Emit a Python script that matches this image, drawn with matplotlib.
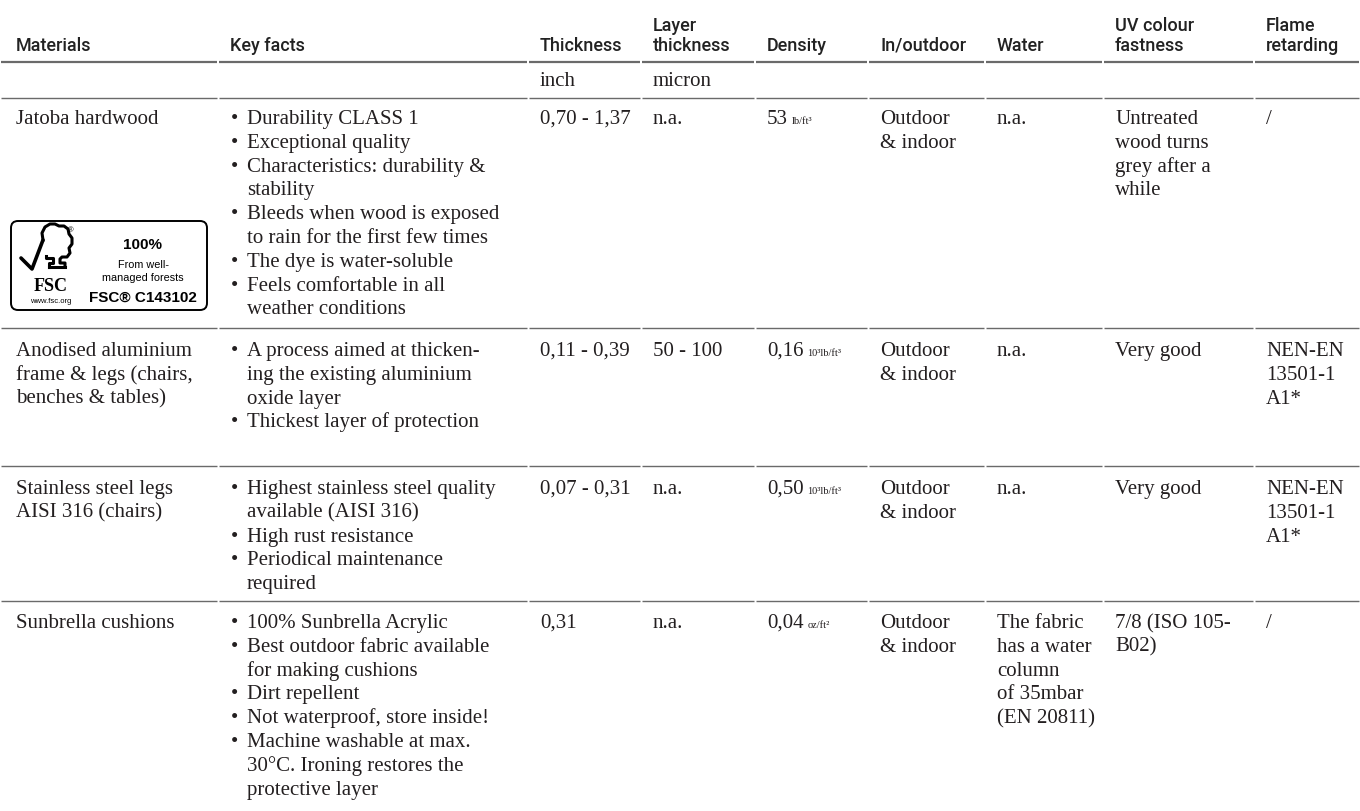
import matplotlib
matplotlib.use("Agg")
import matplotlib.pyplot as plt
from matplotlib.patches import FancyBboxPatch

# ---------------- data ----------------
headers = [["Materials"], ["Key facts"], ["Thickness"], ["Layer", "thickness"],
           ["Density"], ["In/outdoor"], ["Water"], ["UV colour", "fastness"],
           ["Flame", "retarding"]]
units = ["", "", "inch", "micron", "", "", "", "", ""]

materials = [["Jatoba hardwood"],
             ["Anodised aluminium", "frame & legs (chairs,", "benches & tables)"],
             ["Stainless steel legs", "AISI 316 (chairs)"],
             ["Sunbrella cushions"]]
key_facts = [
    [["Durability CLASS 1"], ["Exceptional quality"],
     ["Characteristics: durability &", "stability"],
     ["Bleeds when wood is exposed", "to rain for the first few times"],
     ["The dye is water-soluble"],
     ["Feels comfortable in all", "weather conditions"]],
    [["A process aimed at thicken-", "ing the existing aluminium", "oxide layer"],
     ["Thickest layer of protection"]],
    [["Highest stainless steel quality", "available (AISI 316)"],
     ["High rust resistance"],
     ["Periodical maintenance", "required"]],
    [["100% Sunbrella Acrylic"],
     ["Best outdoor fabric available", "for making cushions"],
     ["Dirt repellent"],
     ["Not waterproof, store inside!"],
     ["Machine washable at max.", "30°C. Ironing restores the", "protective layer"]],
]
thickness = ["0,70 - 1,37", "0,11 - 0,39", "0,07 - 0,31", "0,31"]
layer_thickness = ["n.a.", "50 - 100", "n.a.", "n.a."]
density_value = ["53", "0,16", "0,50", "0,04"]
density_unit = ["lb/ft³", "10³lb/ft³", "10³lb/ft³", "oz/ft²"]
in_outdoor = [["Outdoor", "& indoor"]] * 4
water = [["n.a."], ["n.a."], ["n.a."],
         ["The fabric", "has a water", "column", "of 35mbar", "(EN 20811)"]]
uv_fastness = [["Untreated", "wood turns", "grey after a", "while"],
               ["Very good"], ["Very good"], ["7/8 (ISO 105-", "B02)"]]
flame = [["/"], ["NEN-EN", "13501-1", "A1*"], ["NEN-EN", "13501-1", "A1*"], ["/"]]

# ---------------- layout ----------------
W, H = 1360, 811
col_x = [16, 230, 540, 653, 767, 880, 997, 1115, 1266]
bullet_dx, text_dx = 1, 17
header_y = [25, 45]
line_header = 62
units_y = 80
line_units = 98
row_top = [118, 350, 488, 622]
row_div = [328, 466, 601]
LS = 23.8

SERIF = ["Liberation Serif", "DejaVu Serif"]
SANS = ["Roboto", "DejaVu Sans"]
BODY_PT = 15.0
HEAD_PT = 13.0
TXT = "#231f20"
LINE = "#6a6a6a"

fig = plt.figure(figsize=(W / 100, H / 100), dpi=100)
ax = fig.add_axes([0, 0, 1, 1])
ax.set_xlim(0, W)
ax.set_ylim(H, 0)
ax.axis("off")


def body(x, y, s, **kw):
    return ax.text(x, y + 6, s, va="baseline", ha="left", family=SERIF,
                   fontsize=BODY_PT, color=TXT, **kw)


def head(x, y, s):
    ax.text(x, y + 6, s, va="baseline", ha="left", family=SANS,
            fontsize=HEAD_PT, color="#222222", fontweight="medium")


def hline(y, lw):
    bounds = [0] + [c - 12 for c in col_x[1:]] + [W]
    for a, b in zip(bounds[:-1], bounds[1:]):
        ax.plot([a + 0.6, b - 0.6], [y, y], color=LINE, lw=lw,
                solid_capstyle="butt")


# header
for cx, lines in zip(col_x, headers):
    start = 2 - len(lines)
    for i, ln in enumerate(lines):
        head(cx, header_y[start + i], ln)
hline(line_header, 1.6)
for cx, u in zip(col_x, units):
    if u:
        body(cx, units_y, u)
hline(line_units, 1.0)
for y in row_div:
    hline(y, 1.0)

renderer = fig.canvas.get_renderer()

for r in range(4):
    y0 = row_top[r]
    for i, ln in enumerate(materials[r]):
        body(col_x[0], y0 + i * LS, ln)
    k = 0
    for bullet in key_facts[r]:
        body(col_x[1] + bullet_dx, y0 + k * LS, "•")
        for ln in bullet:
            body(col_x[1] + text_dx, y0 + k * LS, ln)
            k += 1
    body(col_x[2], y0, thickness[r])
    body(col_x[3], y0, layer_thickness[r])
    t = body(col_x[4], y0, density_value[r])
    bb = t.get_window_extent(renderer)
    x_end = ax.transData.inverted().transform((bb.x1, bb.y0))[0]
    ax.text(x_end + 4, y0 + 6, density_unit[r], va="baseline", ha="left",
            family=SERIF, fontsize=7.5, color=TXT)
    for col, vals in ((5, in_outdoor), (6, water), (7, uv_fastness), (8, flame)):
        for i, ln in enumerate(vals[r]):
            body(col_x[col], y0 + i * LS, ln)

# ---------------- FSC label ----------------
box = FancyBboxPatch((11, 221), 196, 89,
                     boxstyle="round,pad=0,rounding_size=7",
                     fc="white", ec="black", lw=1.4)
ax.add_patch(box)
check_x = [21, 32, 43]
check_y = [258, 269, 240]
ax.plot(check_x, check_y, color="black", lw=2.6, solid_capstyle="round",
        solid_joinstyle="round")
crown_x = [43, 42, 45, 50, 55, 59, 64, 68, 69, 72, 72, 69, 70, 67, 62, 60, 60, 65, 65]
crown_y = [240, 233, 227, 224, 224, 226, 226, 229, 234, 238, 244, 248, 253, 257, 257, 259, 263, 263, 267]
ax.plot(crown_x, crown_y, color="black", lw=2.2, solid_joinstyle="round")
trunk_x = [46, 46, 53, 53, 49, 49]
trunk_y = [256, 258, 258, 263, 263, 267]
ax.plot(trunk_x, trunk_y, color="black", lw=2.2, solid_joinstyle="round")
ax.plot([49, 65], [267, 267], color="black", lw=2.2)
ax.text(71, 231, "®", fontsize=5.5, family=["Liberation Sans"], ha="center",
        va="center", color="black")
ax.text(51, 291, "FSC", fontsize=13, family=SERIF, fontweight="bold",
        ha="center", va="baseline", color="black")
ax.text(51, 303, "www.fsc.org", fontsize=5.5, family=["Liberation Sans"],
        ha="center", va="baseline", color="black")
ax.text(143, 249, "100%", fontsize=11, family=["Liberation Sans"],
        fontweight="bold", ha="center", va="baseline", color="black")
ax.text(143, 268, "From well-", fontsize=7.8, family=["Liberation Sans"],
        ha="center", va="baseline", color="black")
ax.text(143, 281, "managed forests", fontsize=7.8, family=["Liberation Sans"],
        ha="center", va="baseline", color="black")
ax.text(143, 302, "FSC® C143102", fontsize=11, family=["Liberation Sans"],
        fontweight="bold", ha="center", va="baseline", color="black")

fig.savefig("out.png", dpi=100, facecolor="white")
